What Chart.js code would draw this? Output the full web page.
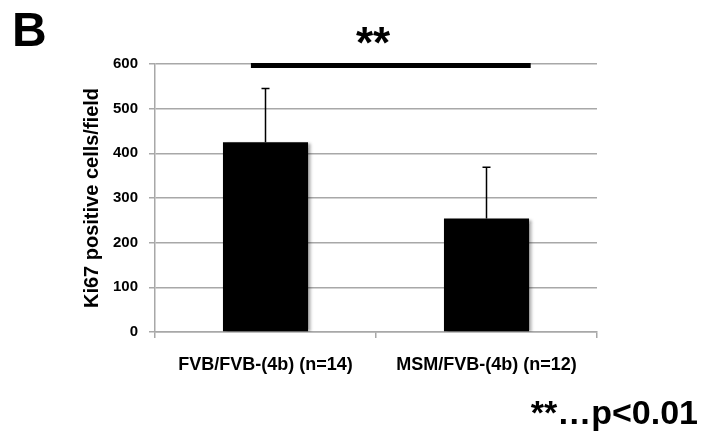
<!DOCTYPE html>
<html>
<head>
<meta charset="utf-8">
<script src="https://cdn.jsdelivr.net/npm/chart.js@4.4.0/dist/chart.umd.min.js"></script>
<style>
	body { margin: 0; background: #fff; }
	#wrap { position: relative; width: 702px; height: 435px; font-family: "Liberation Sans", Arial, sans-serif; }
	.note { position: absolute; font-weight: bold; line-height: 1; white-space: nowrap; color: #000; }
</style>
</head>
<body>
<div id="wrap">
	<canvas id="myChart" width="702" height="435"></canvas>
	<div class="note" style="left:12px; top:6px; font-size:48px;">B</div>
	<div class="note" style="left:356px; top:21px; font-size:44px;">**</div>
	<div class="note" style="right:4px; top:395px; font-size:34px;">**…p&lt;0.01</div>
</div>
<script>
// values
let categories = ["FVB/FVB-(4b) (n=14)", "MSM/FVB-(4b) (n=12)"];
let means = [425, 254];
let errUp = [120, 115];
let yMin = 0;
let yMax = 600;
let yStep = 100;

let gridGrey = "#a8a8a8";
let fontFam = "'Liberation Sans', Arial, sans-serif";

// error bars (upper only) + significance bar
let extras = {
	id: "extras",
	beforeDatasetsDraw(chart) {
		let ctx = chart.ctx;
		ctx.save();
		ctx.shadowColor = "rgba(0,0,0,0.35)";
		ctx.shadowOffsetX = 3;
		ctx.shadowOffsetY = 1;
		ctx.shadowBlur = 3;
	},
	afterDatasetsDraw(chart) {
		let ctx = chart.ctx;
		ctx.restore();
		let x = chart.scales.x;
		let y = chart.scales.y;
		ctx.save();
		ctx.strokeStyle = "#000";
		ctx.lineWidth = 1.5;
		for (let i = 0; i < means.length; i++) {
			let px = x.getPixelForValue(i);
			let top = y.getPixelForValue(means[i] + errUp[i]);
			let bot = y.getPixelForValue(means[i]);
			ctx.beginPath();
			ctx.moveTo(px, bot);
			ctx.lineTo(px, top);
			ctx.moveTo(px - 4, top);
			ctx.lineTo(px + 4, top);
			ctx.stroke();
		}
		// ** bar between the two groups
		let sy = y.getPixelForValue(yMax) + 1.5;
		ctx.lineWidth = 5;
		ctx.beginPath();
		ctx.moveTo(x.getPixelForValue(-0.066), sy);
		ctx.lineTo(x.getPixelForValue(1.2), sy);
		ctx.stroke();
		ctx.restore();
	},
};

let ctx = document.getElementById("myChart").getContext("2d");
let myChart = new Chart(ctx, {
	type: "bar",
	data: {
		labels: categories,
		datasets: [
			{
				data: means,
				backgroundColor: "#000",
				borderWidth: 0,
				categoryPercentage: 1,
				barPercentage: 0.385,
			},
		],
	},
	options: {
		responsive: false,
		animation: false,
		layout: { padding: { left: 80, right: 105, top: 64, bottom: 40 } },
		plugins: { legend: { display: false }, tooltip: { enabled: false } },
		scales: {
			x: {
				afterFit: (s) => { s.height = 435 - 332 - 40; },
				grid: { offset: true, drawOnChartArea: false, drawTicks: true, tickLength: 6, color: gridGrey, lineWidth: 1.5 },
				border: { color: gridGrey, width: 1.5 },
				ticks: { color: "#000", padding: 16, font: { family: fontFam, size: 18, weight: "bold" } },
			},
			y: {
				min: yMin,
				max: yMax,
				afterFit: (s) => { s.width = 155 - 80; },
				grid: { color: gridGrey, lineWidth: 1.5, tickLength: 6 },
				border: { color: gridGrey, width: 1.5 },
				ticks: { stepSize: yStep, color: "#000", padding: 11, font: { family: fontFam, size: 15, weight: "bold" } },
				title: {
					display: true,
					text: "Ki67 positive cells/field",
					color: "#000",
					padding: 0,
					font: { family: fontFam, size: 20, weight: "bold" },
				},
			},
		},
	},
	plugins: [extras],
});
</script>
</body>
</html>
